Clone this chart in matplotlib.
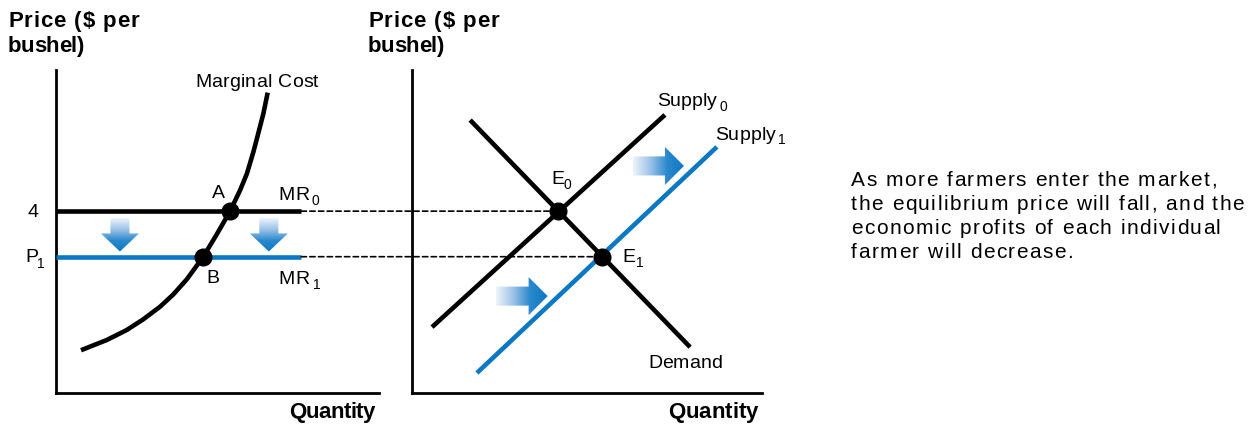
import numpy as np
import matplotlib.pyplot as plt
from matplotlib.patches import Polygon, ConnectionPatch
from matplotlib.colors import LinearSegmentedColormap
from matplotlib.font_manager import FontProperties, findfont
from matplotlib.ft2font import FT2Font

plt.rcParams['font.family'] = ['Liberation Sans', 'DejaVu Sans']

# --- данные (условные единицы) ---
P0 = 5.63
P1 = 4.22
mr_end = 7.59

mc_q = [0.84, 1.57, 2.19, 2.70, 3.22, 3.63, 4.05, 4.56, 4.97, 5.39, 5.70, 5.91, 6.11, 6.26, 6.42, 6.54]
mc_p = [1.35, 1.64, 1.95, 2.28, 2.67, 3.05, 3.52, 4.22, 4.90, 5.63, 6.28, 6.79, 7.46, 8.03, 8.65, 9.23]
A_pt = (5.39, P0)
B_pt = (4.56, P1)

supply0_q = [0.62, 7.83]
supply0_p = [2.04, 8.61]
supply1_q = [2.01, 9.44]
supply1_p = [0.62, 7.62]
demand_q = [1.80, 8.61]
demand_p = [8.45, 1.42]
E0 = (4.52, P0)
E1 = (5.88, P1)

note = ["As more farmers enter the market,",
        "the equilibrium price will fall, and the",
        "economic profits of each individual",
        "farmer will decrease."]

BLUE = '#0a78c2'
W, H = 1257, 426
LW = 3.3

fig = plt.figure(figsize=(W / 100, H / 100), dpi=100)
ax1 = fig.add_axes([56 / W, 33 / H, 323 / W, 323 / H])
ax2 = fig.add_axes([412 / W, 33 / H, 350 / W, 323 / H])
ax1.set_xlim(0, 10)
ax1.set_ylim(0, 10)
ax2.set_xlim(0, 350 / 32.3)
ax2.set_ylim(0, 10)

for ax in (ax1, ax2):
    for s in ('top', 'right'):
        ax.spines[s].set_visible(False)
    for s in ('left', 'bottom'):
        ax.spines[s].set_linewidth(2.0)
        ax.spines[s].set_capstyle('projecting')
    ax.set_xticks([])
    ax.set_yticks([])
    ax.patch.set_alpha(0)

cmap = LinearSegmentedColormap.from_list('arr', ['#eef4fb', '#9cc2e8', '#2a88cc', BLUE])


def grad_arrow(ax, x0, y0, direction, length=1.04, shaft=0.59, head=1.18, head_len=0.56):
    if direction == 'down':
        pts = [(x0 - shaft / 2, y0), (x0 + shaft / 2, y0),
               (x0 + shaft / 2, y0 - length + head_len), (x0 + head / 2, y0 - length + head_len),
               (x0, y0 - length), (x0 - head / 2, y0 - length + head_len),
               (x0 - shaft / 2, y0 - length + head_len)]
        grad = np.linspace(0, 1, 100).reshape(-1, 1)
        ext = (x0 - head / 2, x0 + head / 2, y0 - length, y0)
        origin = 'upper'
    else:
        pts = [(x0, y0 - shaft / 2), (x0, y0 + shaft / 2),
               (x0 + length - head_len, y0 + shaft / 2), (x0 + length - head_len, y0 + head / 2),
               (x0 + length, y0), (x0 + length - head_len, y0 - head / 2),
               (x0 + length - head_len, y0 - shaft / 2)]
        grad = np.linspace(0, 1, 100).reshape(1, -1)
        ext = (x0, x0 + length, y0 - head / 2, y0 + head / 2)
        origin = 'lower'
    poly = Polygon(pts, closed=True, facecolor='none', edgecolor='none')
    ax.add_patch(poly)
    im = ax.imshow(grad, cmap=cmap, extent=ext, origin=origin, aspect='auto', zorder=2)
    im.set_clip_path(poly)


# --- левый график ---
ax1.plot([0, mr_end], [P0, P0], color='black', lw=LW, solid_capstyle='butt', zorder=3)
ax1.plot([0, mr_end], [P1, P1], color=BLUE, lw=LW, solid_capstyle='butt', zorder=3)
ax1.plot(mc_q, mc_p, color='black', lw=LW, solid_joinstyle='round', zorder=4)
ax1.plot(*A_pt, 'o', color='black', ms=12, zorder=5)
ax1.plot(*B_pt, 'o', color='black', ms=12, zorder=5)
grad_arrow(ax1, 1.98, 5.42, 'down')
grad_arrow(ax1, 6.59, 5.42, 'down')

# --- правый график ---
ax2.plot(supply0_q, supply0_p, color='black', lw=LW, solid_capstyle='butt', zorder=3)
ax2.plot(supply1_q, supply1_p, color=BLUE, lw=LW, solid_capstyle='butt', zorder=3)
ax2.plot(demand_q, demand_p, color='black', lw=LW, solid_capstyle='butt', zorder=3)
ax2.plot(*E0, 'o', color='black', ms=12, zorder=5)
ax2.plot(*E1, 'o', color='black', ms=12, zorder=5)
grad_arrow(ax2, 6.84, 7.03, 'right', length=1.58, head_len=0.59)
grad_arrow(ax2, 2.60, 3.00, 'right', length=1.60, head_len=0.59)

# пунктир между графиками
for p, e in ((P0, E0), (P1, E1)):
    con = ConnectionPatch(xyA=(mr_end, p), coordsA=ax1.transData,
                          xyB=e, coordsB=ax2.transData,
                          color='black', lw=1.2, linestyle=(0, (3.2, 2.0)), zorder=1)
    fig.add_artist(con)


# текст с небольшой разрядкой (в исходнике буквы стоят чуть шире, чем у Arial)
def advances(s, size, weight):
    font = FT2Font(findfont(FontProperties(family='Liberation Sans', weight=weight)), hinting_factor=1)
    font.set_size(size, 100)
    return [font.load_char(ord(c)).linearHoriAdvance / 65536 for c in s]


def track_for(s, size, width, weight='normal'):
    adv = advances(s, size, weight)
    return (width - sum(adv[:-1]) - adv[-1] * 0.9) / (len(s) - 1)


def spaced(x, y, s, size=14, weight='normal', width=None, track=0.0):
    adv = advances(s, size, weight)
    if width is not None and len(s) > 1:
        track = track_for(s, size, width, weight)
    for c, a in zip(s, adv):
        if c != ' ':
            fig.text(x / W, 1 - y / H, c, fontsize=size, fontweight=weight,
                     ha='left', va='baseline')
        x += a + track


TT = 16
for x0 in (8, 368):
    spaced(x0, 27, 'Price ($ per', TT, 'bold', width=130)
    spaced(x0, 52, 'bushel)', TT, 'bold', width=75)
spaced(289, 418, 'Quantity', TT, 'bold', width=85)
spaced(668, 418, 'Quantity', TT, 'bold', width=89)

LB = 14
SUB = 10
spaced(195, 87, 'Marginal Cost', LB, width=123)
spaced(28, 217, '4', LB)
spaced(25, 262, 'P', LB)
spaced(37, 268, '1', SUB)
spaced(212, 198, 'A', LB)
spaced(206, 283, 'B', LB)
spaced(278, 200, 'MR', LB, width=30)
spaced(311, 205, '0', SUB)
spaced(278, 284, 'MR', LB, width=30)
spaced(313, 289, '1', SUB)

spaced(657, 106, 'Supply', LB, width=59)
spaced(720, 111, '0', SUB)
spaced(715, 140, 'Supply', LB, width=60)
spaced(778, 144, '1', SUB)
spaced(551, 184, 'E', LB)
spaced(564, 189, '0', SUB)
spaced(622, 262, 'E', LB)
spaced(636, 267, '1', SUB)
spaced(648, 368, 'Demand', LB, width=73)

NS = 15
ntrack = track_for(note[1], NS, 392)
for i, line in enumerate(note):
    spaced(851, 186 + 24 * i, line, NS, track=ntrack)

fig.savefig('out.png', dpi=100)
